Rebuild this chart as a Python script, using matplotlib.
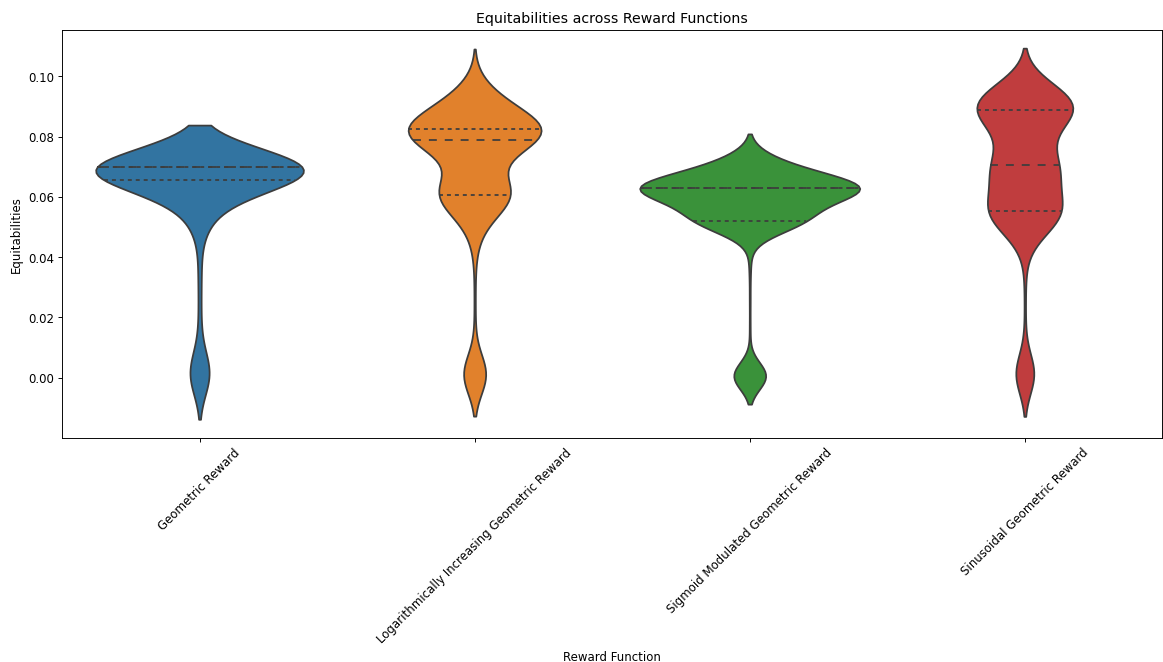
import numpy as np
import pandas as pd
import matplotlib
matplotlib.use("Agg")
import matplotlib.pyplot as plt
import seaborn as sns

reward_functions = [
    "Geometric Reward",
    "Logarithmically Increasing Geometric Reward",
    "Sigmoid Modulated Geometric Reward",
    "Sinusoidal Geometric Reward",
]

# Frequency tables of observed equitability values (value -> number of runs)
geometric_values = [0.000, 0.002, 0.004, 0.012, 0.022, 0.032, 0.040,
                    0.050, 0.052, 0.054, 0.056, 0.058, 0.060, 0.062, 0.064, 0.0655,
                    0.066, 0.067, 0.068, 0.069, 0.070]
geometric_counts = [6, 3, 2, 1, 1, 1, 1,
                    1, 2, 2, 3, 3, 3, 3, 3, 3,
                    6, 8, 10, 12, 76]

log_values = [0.000, 0.002, 0.004, 0.014, 0.024, 0.034, 0.042,
              0.046, 0.050, 0.054, 0.057, 0.0595, 0.0607, 0.063, 0.066, 0.069,
              0.072, 0.074, 0.076, 0.078, 0.079, 0.0805, 0.0815, 0.0825,
              0.084, 0.086, 0.088, 0.090, 0.092, 0.094, 0.0963]
log_counts = [32, 17, 7, 2, 2, 2, 2,
              6, 10, 18, 25, 28, 49, 42, 25, 7,
              7, 14, 18, 28, 42, 49, 49, 53,
              35, 32, 28, 25, 20, 15, 11]

sigmoid_values = [0.000, 0.001, 0.003, 0.016, 0.026, 0.036,
                  0.042, 0.046, 0.049, 0.051, 0.0519,
                  0.054, 0.056, 0.058, 0.060, 0.0615, 0.0629,
                  0.0645, 0.066, 0.068, 0.070, 0.0721]
sigmoid_counts = [50, 20, 10, 2, 2, 3,
                  2, 4, 8, 60, 100,
                  40, 45, 45, 50, 55, 260,
                  60, 55, 45, 40, 44]

sinusoidal_values = [0.000, 0.002, 0.004, 0.014, 0.024, 0.033, 0.040,
                     0.044, 0.047, 0.050, 0.0525, 0.0545, 0.0553,
                     0.058, 0.061, 0.064, 0.067, 0.069, 0.0707,
                     0.073, 0.076, 0.079, 0.082, 0.085, 0.087, 0.0888,
                     0.0905, 0.092, 0.094, 0.0965]
sinusoidal_counts = [24, 15, 7, 2, 2, 2, 2,
                     5, 10, 20, 35, 40, 28,
                     28, 25, 25, 28, 26, 42,
                     23, 17, 17, 22, 30, 35, 38,
                     45, 42, 37, 28]

tables = [
    (geometric_values, geometric_counts),
    (log_values, log_counts),
    (sigmoid_values, sigmoid_counts),
    (sinusoidal_values, sinusoidal_counts),
]

frames = []
for name, (vals, cnts) in zip(reward_functions, tables):
    frames.append(pd.DataFrame({
        "Reward Function": name,
        "Equitabilities": np.repeat(vals, cnts),
    }))
df = pd.concat(frames, ignore_index=True)

DPI = 84.7
fig = plt.figure(figsize=(1163.4 / DPI, 662.4 / DPI), dpi=DPI)
ax = fig.add_axes([0.0533, 0.3384, 0.9458, 0.6163])

LW = 1.5
sns.violinplot(
    data=df,
    x="Reward Function",
    y="Equitabilities",
    hue="Reward Function",
    order=reward_functions,
    hue_order=reward_functions,
    inner="quartile",
    common_norm=True,
    linewidth=LW,
    legend=False,
    ax=ax,
)

# Inner lines come as (Q1, median, Q3) per violin:
# long dashes for the median, short dashes for the quartiles
for i, line in enumerate(ax.lines):
    line.set_linewidth(LW)
    if i % 3 == 1:
        line.set_dashes([LW * 3, LW * 3])
    else:
        line.set_dashes([LW * 1.5, LW * 1.5])

ax.set_title("Equitabilities across Reward Functions")
ax.set_xlabel("Reward Function")
ax.set_ylabel("Equitabilities")
plt.setp(ax.get_xticklabels(), rotation=45, ha="center")

fig.savefig("out.png", dpi=DPI)
